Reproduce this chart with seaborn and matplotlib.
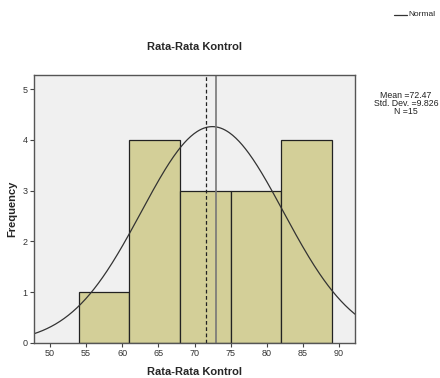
import numpy as np
import pandas as pd
import matplotlib
matplotlib.use("Agg")
import matplotlib.pyplot as plt
import seaborn as sns

# Data
bin_edges = [54, 61, 68, 75, 82, 89]
bin_mids = [57.5, 64.5, 71.5, 78.5, 85.5]
counts = [1, 4, 3, 3, 4]
mean_val = 72.47
std_val = 9.826
n_val = 15
dashed_ref = 71.6
solid_ref = 73.0
x_ticks = [50, 55, 60, 65, 70, 75, 80, 85, 90]
y_ticks = [0, 1, 2, 3, 4, 5]

sns.set_theme(style="white")
plt.rcParams['font.family'] = ['Liberation Sans', 'DejaVu Sans']

fig = plt.figure(figsize=(4.4, 3.78), dpi=100)
ax = fig.add_axes([34/440, 35/378, 321/440, 268/378])
ax.set_facecolor("#f0f0f0")

df = pd.DataFrame({"x": bin_mids, "w": counts})
sns.histplot(data=df, x="x", weights="w", bins=bin_edges, ax=ax,
             color="#d3cf98", edgecolor="#222222", linewidth=0.9, alpha=1.0)

xs = np.linspace(47.8, 92.2, 300)
binw = bin_edges[1] - bin_edges[0]
ys = n_val * binw / (std_val * np.sqrt(2 * np.pi)) * np.exp(-0.5 * ((xs - mean_val) / std_val) ** 2)
sns.lineplot(x=xs, y=ys, ax=ax, color="#333333", linewidth=0.9)

ax.axvline(dashed_ref, color="#222222", linestyle=(0, (3, 2)), linewidth=0.9)
ax.axvline(solid_ref, color="#777777", linestyle="-", linewidth=1.2)

ax.set_xlim(47.8, 92.2)
ax.set_ylim(0, 5.28)
ax.set_xticks(x_ticks)
ax.set_yticks(y_ticks)
ax.tick_params(axis="both", which="both", direction="out", length=3, width=0.8,
               color="#444444", labelsize=6.5, pad=1.5, labelcolor="#333333")
ax.tick_params(bottom=True, left=True)
for s in ax.spines.values():
    s.set_color("#555555")
    s.set_linewidth(1.0)

ax.set_xlabel("Rata-Rata Kontrol", fontsize=8, fontweight="bold", labelpad=6)
ax.set_ylabel("Frequency", fontsize=8, fontweight="bold", labelpad=4)
fig.text(194/440, 1 - 47/378, "Rata-Rata Kontrol", ha="center", va="center",
         fontsize=8, fontweight="bold")

fig.text(406/440, 1 - 103.5/378, "Mean =%.2f\nStd. Dev. =%.3f\nN =%d" % (mean_val, std_val, n_val),
         ha="center", va="center", fontsize=6.3, linespacing=0.9, color="#222222")

# legend
fig.lines.append(plt.Line2D([394/440, 407/440], [1 - 15/378, 1 - 15/378],
                            transform=fig.transFigure, color="#333333", linewidth=0.9))
fig.text(408/440, 1 - 15/378, "Normal", ha="left", va="center", fontsize=6, color="#222222")

fig.savefig("out.png", dpi=100)
